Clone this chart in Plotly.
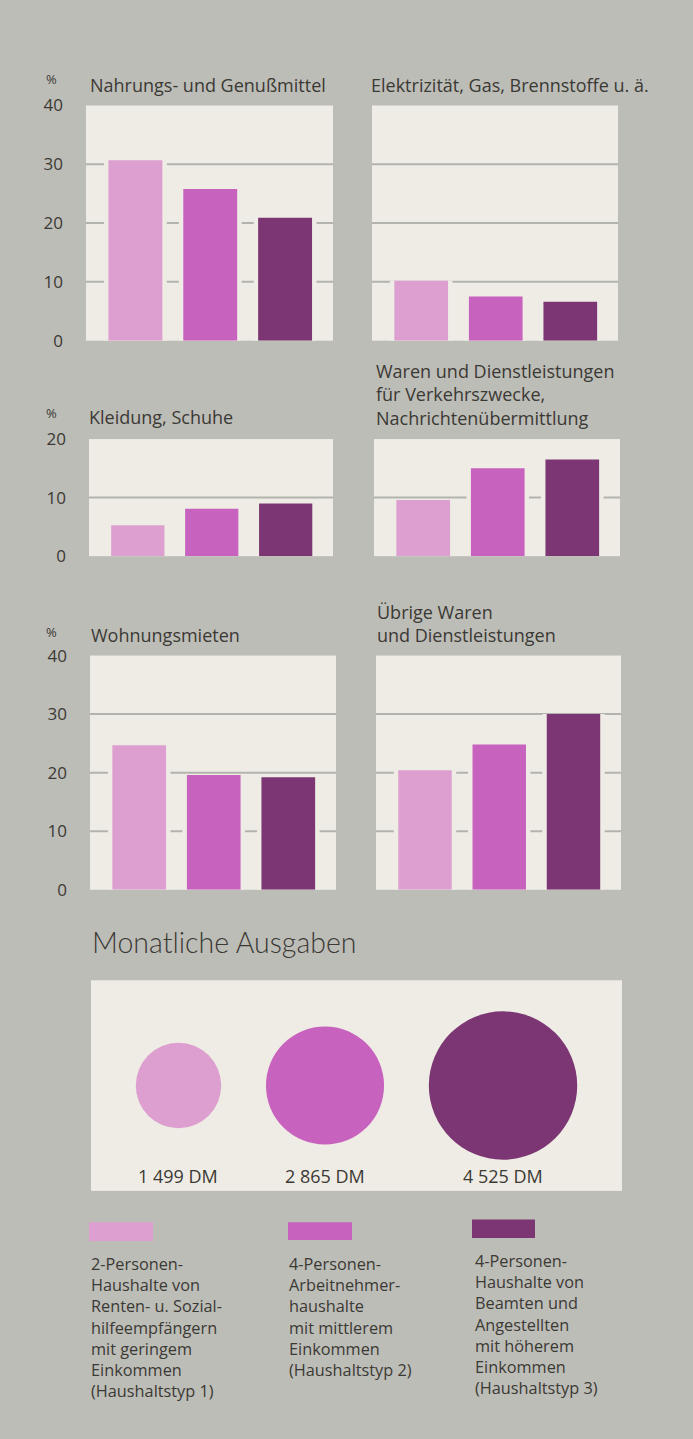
import math
import plotly.graph_objects as go

# ---------------- data ----------------
households = ["Haushaltstyp 1", "Haushaltstyp 2", "Haushaltstyp 3"]
colors = ["#dc9fd0", "#c862bf", "#7c3673"]

food = [30.7, 25.8, 20.9]          # Nahrungs- und Genußmittel
energy = [10.2, 7.5, 6.6]          # Elektrizität, Gas, Brennstoffe u. ä.
clothing = [5.3, 8.1, 9.0]         # Kleidung, Schuhe
transport = [9.6, 15.0, 16.5]      # Verkehr, Nachrichtenübermittlung
rent = [24.7, 19.6, 19.2]          # Wohnungsmieten
other = [20.4, 24.8, 30.0]         # Übrige Waren und Dienstleistungen

monthly_spend = [1499, 2865, 4525]
spend_labels = ["1 499 DM", "2 865 DM", "4 525 DM"]

titles = [
    ["Nahrungs- und Genußmittel"],
    ["Elektrizität, Gas, Brennstoffe u. ä."],
    ["Kleidung, Schuhe"],
    ["Waren und Dienstleistungen", "für Verkehrszwecke,", "Nachrichtenübermittlung"],
    ["Wohnungsmieten"],
    ["Übrige Waren", "und Dienstleistungen"],
]
legend_texts = [
    ["2-Personen-", "Haushalte von", "Renten- u. Sozial-", "hilfeempfängern", "mit geringem",
     "Einkommen", "(Haushaltstyp 1)"],
    ["4-Personen-", "Arbeitnehmer-", "haushalte", "mit mittlerem", "Einkommen", "(Haushaltstyp 2)"],
    ["4-Personen-", "Haushalte von", "Beamten und", "Angestellten", "mit höherem", "Einkommen",
     "(Haushaltstyp 3)"],
]
main_title = "Monatliche Ausgaben"

# ---------------- style ----------------
W, H = 693, 1439
BG = "#bdbdb8"
PANEL = "#eeece4"
GRID = "#b3b3ae"
TXT = "#3b3934"
FONT = "Open Sans"


def px(x):
    return x / W


def py(y):
    return 1 - y / H


fig = go.Figure()
annotations = []
shapes = []


def text_block(lines, x, y_first, size):
    """Multi-line left-aligned text; y_first = centre of the first line (px)."""
    step = 1.3 * size
    y_mid = y_first + (len(lines) - 1) * step / 2
    annotations.append(dict(text="<br>".join(lines), xref="paper", yref="paper", x=x, y=py(y_mid),
                            xanchor="left", yanchor="middle", align="left", showarrow=False,
                            font=dict(family=FONT, size=size, color=TXT)))


# panel layout (pixel boxes: left, right, top, bottom); title: x, centre of last line
panels = [
    dict(vals=food, ymax=40, box=(86, 333, 95, 334), ticks=True, tx=88, ty=74, pct=68),
    dict(vals=energy, ymax=40, box=(372, 618, 95, 334), ticks=False, tx=369, ty=74),
    dict(vals=clothing, ymax=20, box=(89, 333, 434, 553), ticks=True, tx=87, ty=412, pct=408),
    dict(vals=transport, ymax=20, box=(374, 620, 434, 553), ticks=False, tx=374, ty=412),
    dict(vals=rent, ymax=40, box=(90, 336, 654, 892), ticks=True, tx=89, ty=633, pct=630),
    dict(vals=other, ymax=40, box=(376, 621, 654, 892), ticks=False, tx=375, ty=633),
]

xpos = list(range(len(households)))
TITLE_SIZE = 18

for i, p in enumerate(panels, start=1):
    xa = "x" if i == 1 else f"x{i}"
    ya = "y" if i == 1 else f"y{i}"
    l, r, t, b = p["box"]
    lines = titles[i - 1]
    # halo bars hide the grid lines next to each bar
    fig.add_trace(go.Bar(x=xpos, y=p["vals"], width=0.84, marker=dict(color=PANEL, line=dict(width=0)),
                         xaxis=xa, yaxis=ya, showlegend=False, hoverinfo="skip"))
    fig.add_trace(go.Bar(x=xpos, y=p["vals"], width=0.72, marker=dict(color=colors, line=dict(width=0)),
                         xaxis=xa, yaxis=ya, showlegend=False, name=" ".join(lines)))
    tickvals = list(range(0, p["ymax"] + 1, 10))
    fig.layout[f"xaxis{'' if i == 1 else i}"] = dict(
        domain=[px(l), px(r)], range=[-0.66, 2.64], visible=False, anchor=ya, fixedrange=True)
    fig.layout[f"yaxis{'' if i == 1 else i}"] = dict(
        domain=[py(b), py(t)], range=[0, p["ymax"]], anchor=xa, showgrid=False, zeroline=False,
        showline=False, tickvals=tickvals, ticktext=[str(v) for v in tickvals],
        showticklabels=p["ticks"], ticks="", ticklabelstandoff=22,
        tickfont=dict(family=FONT, size=17, color=TXT), fixedrange=True)
    for g in tickvals[1:-1]:
        shapes.append(dict(type="line", xref=f"{xa} domain", yref=ya, x0=0, x1=1, y0=g, y1=g,
                           line=dict(color=GRID, width=2), layer="below"))
    first = p["ty"] - (len(lines) - 1) * 1.3 * TITLE_SIZE
    text_block(lines, px(p["tx"]), first, TITLE_SIZE)
    if p["ticks"]:
        annotations.append(dict(text="%", xref="paper", yref="paper", x=px(51), y=py(p["pct"]),
                                xanchor="center", yanchor="middle", showarrow=False,
                                font=dict(family=FONT, size=13, color=TXT)))

# ---------------- bubble panel ----------------
bl, br, bt, bb = 91, 622, 984, 1198
sizeref = 0.411
radii = [math.sqrt(v / (2 * sizeref)) for v in monthly_spend]
panel_w = br - bl
gap = (panel_w - sum(2 * r for r in radii)) / (len(radii) + 1)
centers = []
acc = 0.0
for r in radii:
    acc += gap + r
    centers.append(acc)
    acc += r

fig.add_trace(go.Scatter(x=centers, y=[0] * len(monthly_spend), mode="markers",
                         marker=dict(size=monthly_spend, sizemode="area", sizeref=sizeref,
                                     color=colors, line=dict(width=0), opacity=1),
                         text=spend_labels, hoverinfo="text",
                         xaxis="x7", yaxis="y7", showlegend=False))
fig.layout["xaxis7"] = dict(domain=[px(bl), px(br)], range=[0, panel_w], visible=False, anchor="y7",
                            fixedrange=True)
fig.layout["yaxis7"] = dict(domain=[py(bb), py(bt)], range=[-1.0, 1.0], visible=False, anchor="x7",
                            fixedrange=True)
for c, lab in zip(centers, spend_labels):
    annotations.append(dict(text=lab, xref="x7", yref="paper", x=c, y=py(1183), xanchor="center",
                            yanchor="middle", showarrow=False, font=dict(family=FONT, size=18, color=TXT)))

annotations.append(dict(text=main_title, xref="paper", yref="paper", x=px(90), y=py(945),
                        xanchor="left", yanchor="middle", showarrow=False,
                        font=dict(family="Lato", size=28.5, color=TXT, weight=300)))

# ---------------- legend ----------------
sw_boxes = [(89, 153, 1230, 1249), (288, 352, 1230, 1248), (472, 535, 1227, 1246)]
txt_x = [89, 287, 473]
txt_y = [1273, 1273, 1270]
for (x0, x1, y0, y1), col, tx, ty, lt in zip(sw_boxes, colors, txt_x, txt_y, legend_texts):
    shapes.append(dict(type="rect", xref="paper", yref="paper", x0=px(x0), x1=px(x1), y0=py(y1), y1=py(y0),
                       fillcolor=col, line=dict(width=0), layer="above"))
    text_block(lt, px(tx), ty, 16.3)

fig.update_layout(
    width=W, height=H, margin=dict(l=0, r=0, t=0, b=0),
    paper_bgcolor=BG, plot_bgcolor=PANEL, barmode="overlay",
    annotations=annotations, shapes=shapes, showlegend=False,
    font=dict(family=FONT, color=TXT),
)

fig.write_html("out.html", config={"displayModeBar": False},
               post_script="document.body.style.margin='0';document.body.style.overflow='hidden';"
                           "document.body.style.background='" + BG + "';")
